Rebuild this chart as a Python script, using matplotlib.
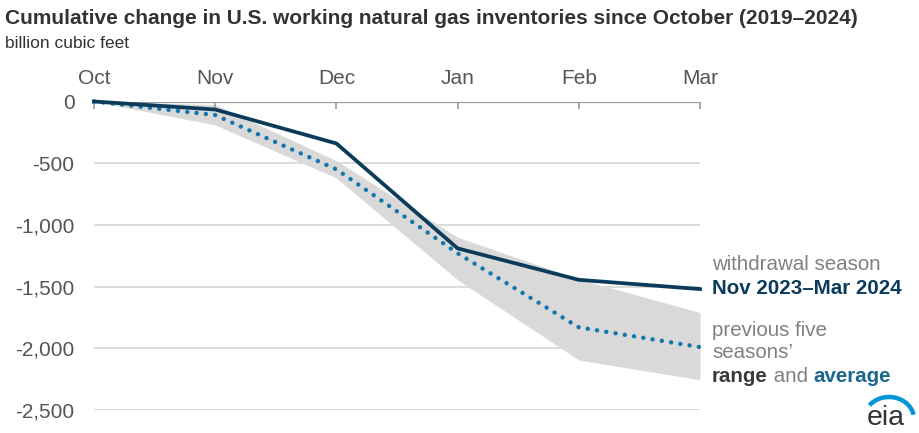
import matplotlib
matplotlib.use("Agg")
import matplotlib.pyplot as plt
from matplotlib.patches import Arc
import numpy as np

# ---- data ----
months = ["Oct", "Nov", "Dec", "Jan", "Feb", "Mar"]
current_season = [0, -65, -340, -1190, -1445, -1520]
five_year_avg = [0, -110, -550, -1230, -1830, -1990]
range_upper = [0, -25, -480, -1100, -1440, -1710]
range_lower = [0, -190, -620, -1445, -2095, -2255]
y_ticks = [0, -500, -1000, -1500, -2000, -2500]
y_tick_labels = ["0", "-500", "-1,000", "-1,500", "-2,000", "-2,500"]

base = "Liberation Sans"

DARK = "#0b3b5b"
BLUE = "#1377ad"
AVG_TXT = "#1d6690"
GRAYTXT = "#808080"
LABEL = "#555555"

W, H = 919, 433
fig = plt.figure(figsize=(W / 100, H / 100), dpi=100)

def ax_rect(l, t, r, b):
    return [l / W, 1 - b / H, (r - l) / W, (b - t) / H]

ax = fig.add_axes(ax_rect(94, 101.5, 700, 410))
x = np.arange(len(months))
ax.fill_between(x, range_upper, range_lower, color="#d9d9d9", lw=0, zorder=1)
ax.plot(x, five_year_avg, color=BLUE, lw=3.2, linestyle=(0, (0.01, 2.1)),
        dash_capstyle="round", zorder=3, clip_on=False)
ax.plot(x, current_season, color=DARK, lw=2.7, zorder=4, clip_on=False,
        solid_joinstyle="round")

ax.set_xlim(0, len(months) - 1)
ax.set_ylim(-2500, 0)
ax.set_yticks(y_ticks)
ax.set_yticklabels(y_tick_labels)
for yv in y_ticks[1:]:
    ax.axhline(yv, color="#dcdcdc", lw=1.4, zorder=0)
ax.axhline(0, color="#9a9a9a", lw=1.6, zorder=2)
ax.set_xticks(x)
ax.set_xticklabels(months)
ax.xaxis.tick_top()
ax.tick_params(axis="x", direction="in", length=5, width=1.2, color="#9a9a9a",
               labelsize=15, labelcolor=LABEL, pad=10)
ax.tick_params(axis="y", length=0, labelsize=15, labelcolor=LABEL, pad=14)
for lab in ax.get_xticklabels() + ax.get_yticklabels():
    lab.set_fontfamily(base)
for s in ax.spines.values():
    s.set_visible(False)
ax.patch.set_alpha(0)

# overlay in pixel coordinates
ov = fig.add_axes([0, 0, 1, 1])
ov.set_xlim(0, W)
ov.set_ylim(H, 0)
ov.axis("off")
ov.patch.set_alpha(0)

ov.text(5, 18, "Cumulative change in U.S. working natural gas inventories since October (2019\u20132024)",
        fontsize=15, fontweight="bold", color="#333333", family=base, va="center", ha="left")
ov.text(5, 44, "billion cubic feet", fontsize=12.5, color="#333333", family=base,
        va="center", ha="left")

fs = 14.8
ov.text(712, 265, "withdrawal season", fontsize=fs, color=GRAYTXT, family=base, va="center")
ov.text(712, 288, "Nov 2023\u2013Mar 2024", fontsize=fs, color=DARK, family=base,
        fontweight="bold", va="center")
ov.text(712, 330, "previous five", fontsize=fs, color=GRAYTXT, family=base, va="center")
ov.text(712, 353, "seasons\u2019", fontsize=fs, color=GRAYTXT, family=base, va="center")

fig.canvas.draw()
r = fig.canvas.get_renderer()
inv = ov.transData.inverted()
xpos = 712
for txt, col, wt in [("range", "#3a3a3a", "bold"), (" and ", GRAYTXT, "normal"),
                     ("average", AVG_TXT, "bold")]:
    t = ov.text(xpos, 376, txt, fontsize=fs, color=col, family=base, fontweight=wt, va="center")
    bb = t.get_window_extent(renderer=r)
    xpos = inv.transform((bb.x1, bb.y0))[0]

# eia logo
ov.text(886, 425, "eia", fontsize=20.5, color="#333333", family=base, va="baseline", ha="center")
ov.add_patch(Arc((889, 419), 50, 44, theta1=215, theta2=350, color="#0096d7", lw=3.2))

fig.savefig("out.png", dpi=100)
